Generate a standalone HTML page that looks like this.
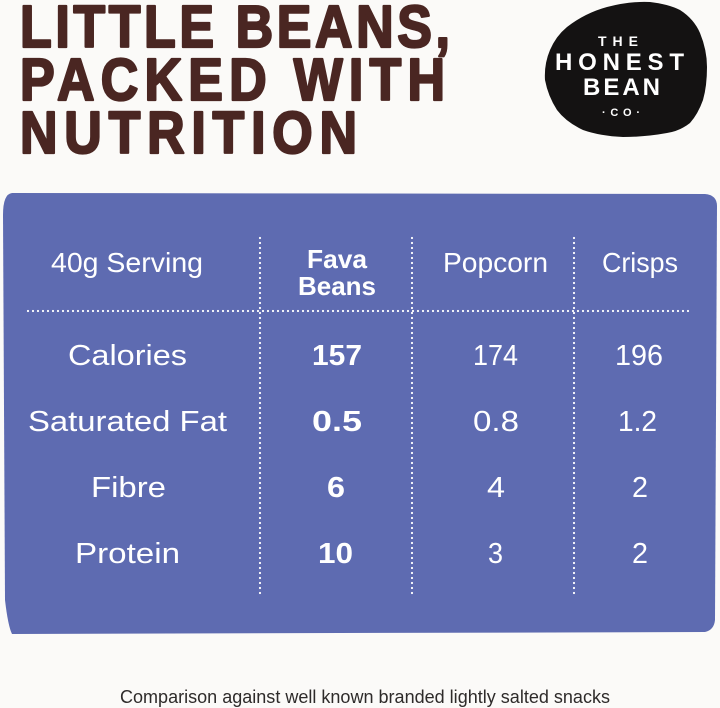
<!DOCTYPE html>
<html>
<head>
<meta charset="utf-8">
<style>
  html,body{margin:0;padding:0;background:#fbfaf8;}
  svg{display:block;}
  .t{font-family:"Liberation Sans",sans-serif;}
</style>
</head>
<body>
<svg width="720" height="708" viewBox="0 0 720 708" xmlns="http://www.w3.org/2000/svg">
  <rect x="0" y="0" width="720" height="708" fill="#fbfaf8"/>

  <!-- Title -->
  <g class="t" fill="#4a2622" stroke="#4a2622" stroke-width="2" stroke-linejoin="round" font-weight="bold" font-size="52">
    <text transform="translate(20,47) scale(1,1.15)" x="0" y="0" textLength="430" lengthAdjust="spacing">LITTLE BEANS,</text>
    <text transform="translate(20,100) scale(1,1.15)" x="0" y="0" textLength="425" lengthAdjust="spacing">PACKED WITH</text>
    <text transform="translate(20,153) scale(1,1.15)" x="0" y="0" textLength="337" lengthAdjust="spacing">NUTRITION</text>
  </g>

  <!-- Logo blob -->
  <path d="M607 7 Q630 1 650 2 Q668 4 680 10 Q694 19 700 33 Q707 50 707 67 Q707 86 703 100 Q698 114 690 123 Q680 131 667 133 Q645 137 623 137 Q600 136 583 130 Q566 122 557 110 Q548 96 545 80 Q544 64 550 50 Q556 36 567 27 Q585 13 607 7 Z" fill="#141212"/>
  <g class="t" fill="#ffffff" font-weight="bold" text-anchor="start">
    <text x="598" y="46" font-size="14" textLength="40" lengthAdjust="spacing">THE</text>
    <text x="555" y="70" font-size="24" textLength="129" lengthAdjust="spacing">HONEST</text>
    <text x="583" y="95" font-size="24" textLength="77" lengthAdjust="spacing">BEAN</text>
    <text x="602" y="116" font-size="11" textLength="38" lengthAdjust="spacing">·CO·</text>
  </g>

  <!-- Panel -->
  <path d="M12 193 L705 194 Q717 195 717 206 L715 620 Q714 630 705 632 L12 634 Q8 626 5 600 L3 215 Q3 194 12 193 Z" fill="#5e6bb1"/>

  <!-- Dotted lines -->
  <g stroke="#ffffff" stroke-width="2.2" stroke-linecap="round" stroke-dasharray="0 5" fill="none">
    <line x1="260" y1="238" x2="260" y2="595"/>
    <line x1="412" y1="238" x2="412" y2="595"/>
    <line x1="574" y1="238" x2="574" y2="595"/>
    <line x1="28" y1="311" x2="693" y2="311"/>
  </g>

  <!-- Header -->
  <g class="t" fill="#ffffff" font-size="28">
    <text x="51" y="272" textLength="152" lengthAdjust="spacingAndGlyphs">40g Serving</text>
    <text x="307" y="268" font-weight="bold" font-size="26" textLength="60" lengthAdjust="spacingAndGlyphs">Fava</text>
    <text x="298" y="295" font-weight="bold" font-size="26" textLength="78" lengthAdjust="spacingAndGlyphs">Beans</text>
    <text x="443" y="272" textLength="105" lengthAdjust="spacingAndGlyphs">Popcorn</text>
    <text x="602" y="272" textLength="76" lengthAdjust="spacingAndGlyphs">Crisps</text>
  </g>

  <!-- Rows -->
  <g class="t" fill="#ffffff" font-size="29">
    <text x="68" y="365" textLength="119" lengthAdjust="spacingAndGlyphs">Calories</text>
    <text x="28" y="431" textLength="199" lengthAdjust="spacingAndGlyphs">Saturated Fat</text>
    <text x="91" y="497" textLength="75" lengthAdjust="spacingAndGlyphs">Fibre</text>
    <text x="75" y="563" textLength="105" lengthAdjust="spacingAndGlyphs">Protein</text>

    <g font-weight="bold">
      <text x="312" y="365" textLength="50" lengthAdjust="spacingAndGlyphs">157</text>
      <text x="312" y="431" textLength="50" lengthAdjust="spacingAndGlyphs">0.5</text>
      <text x="327" y="497" textLength="18" lengthAdjust="spacingAndGlyphs">6</text>
      <text x="318" y="563" textLength="35" lengthAdjust="spacingAndGlyphs">10</text>
    </g>

    <text x="473" y="365" textLength="45" lengthAdjust="spacingAndGlyphs">174</text>
    <text x="473" y="431" textLength="46" lengthAdjust="spacingAndGlyphs">0.8</text>
    <text x="487" y="497" textLength="18" lengthAdjust="spacingAndGlyphs">4</text>
    <text x="488" y="563" textLength="15" lengthAdjust="spacingAndGlyphs">3</text>

    <text x="615" y="365" textLength="48" lengthAdjust="spacingAndGlyphs">196</text>
    <text x="618" y="431" textLength="39" lengthAdjust="spacingAndGlyphs">1.2</text>
    <text x="632" y="497" textLength="16" lengthAdjust="spacingAndGlyphs">2</text>
    <text x="632" y="563" textLength="16" lengthAdjust="spacingAndGlyphs">2</text>
  </g>

  <!-- Footer -->
  <text class="t" x="120" y="703" font-size="18" fill="#2e2b2a" textLength="490" lengthAdjust="spacingAndGlyphs">Comparison against well known branded lightly salted snacks</text>
</svg>
</body>
</html>
